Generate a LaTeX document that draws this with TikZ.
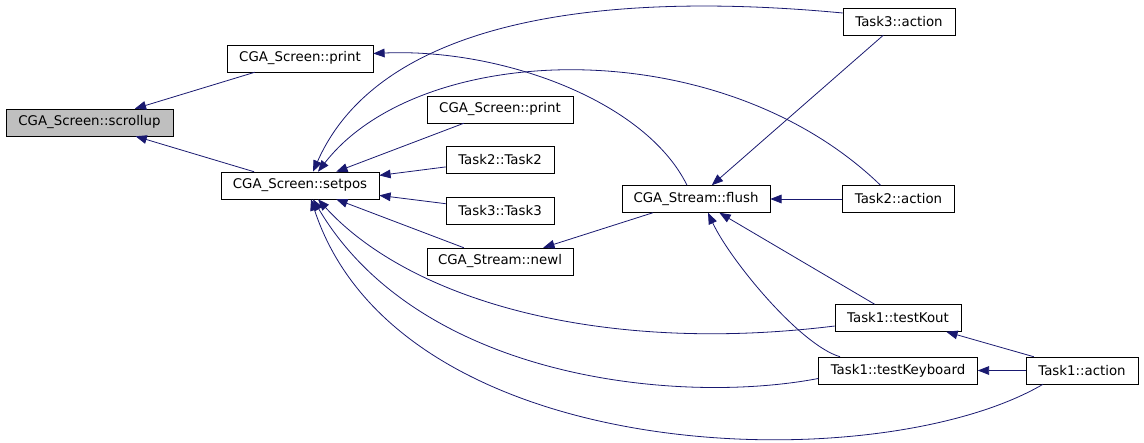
\documentclass[tikz,border=0pt]{standalone}
\usepackage{fontspec}
\newfontfamily\graphfont{DejaVu Sans}
\usetikzlibrary{arrows.meta}
\usetikzlibrary{calc}
\definecolor{edgeblue}{RGB}{25,25,112}
\definecolor{markgray}{RGB}{191,191,191}

\begin{document}
\begin{tikzpicture}[
    x=0.75pt, y=-0.75pt,
    fn/.style={draw=black, rectangle, inner sep=0pt, minimum height=27*0.75pt,
        minimum width=#1*0.75pt, font=\graphfont\fontsize{10}{12}\selectfont},
    call/.style={edgeblue, line width=0.6pt, -{Triangle[length=8.5pt, width=6.5pt]}}
]
    \useasboundingbox (0,0) rectangle (1144,442);

    \node[fn=167, fill=markgray] (scrollup) at (89.5,122.5) {CGA\_Screen::scrollup};
    \node[fn=146] (printA) at (300,58.5) {CGA\_Screen::print};
    \node[fn=158] (setpos) at (300,185.5) {CGA\_Screen::setpos};

    \node[fn=146] (printB) at (500,109.5) {CGA\_Screen::print};
    \node[fn=108] (ctorTwo) at (500,160) {Task2::Task2};
    \node[fn=108] (ctorThree) at (500,210.5) {Task3::Task3};
    \node[fn=146] (newl) at (500,261.5) {CGA\_Stream::newl};

    \node[fn=148] (flush) at (696,199) {CGA\_Stream::flush};

    \node[fn=112] (actThree) at (899,21.5) {Task3::action};
    \node[fn=112] (actTwo) at (898.5,199) {Task2::action};
    \node[fn=126] (kout) at (898,318) {Task1::testKout};
    \node[fn=159] (keyboard) at (898,370.5) {Task1::testKeyboard};
    \node[fn=112] (actOne) at (1082,370.5) {Task1::action};

    % callers of scrollup
    \draw[call] (printA) -- (scrollup);
    \draw[call] (setpos) -- (scrollup);

    % callers of setpos
    \foreach \s in {printB, ctorTwo, ctorThree, newl} {
        \draw[call] (\s) -- (setpos);
    }
    \draw[call] (actThree.west |- 0,13) .. controls (600,-10) and (380,20) .. ($(setpos.north)+(13,0)$);
    \draw[call] ($(actTwo.north)+(-18,0)$) .. controls (720,30) and (420,40) .. ($(setpos.north)+(18,0)$);
    \draw[call] ($(kout.west)+(0,8)$) .. controls (600,355) and (410,300) .. ($(setpos.south)+(18,0)$);
    \draw[call] ($(keyboard.west)+(0,8)$) .. controls (680,405) and (420,380) .. ($(setpos.south)+(13,0)$);
    \draw[call] ($(actOne.south)+(-39,0)$) .. controls (880,480) and (400,470) .. ($(setpos.south)+(11,0)$);

    % callers of print and newl
    \draw[call] ($(flush.north)+(-9,0)$) .. controls (645,100) and (500,48) .. ($(printA.east)+(0,-5)$);
    \draw[call] (flush) -- (newl);

    % callers of flush
    \draw[call] (actThree) -- (flush);
    \draw[call] (actTwo) -- (flush);
    \draw[call] (kout) -- (flush);
    \draw[call] ($(keyboard.north)+(-58,0)$) .. controls (800,345) and (730,260) .. ($(flush.south)+(12,0)$);

    % callers of the tests
    \draw[call] (actOne) -- (kout);
    \draw[call] (actOne) -- (keyboard);
\end{tikzpicture}
\end{document}
